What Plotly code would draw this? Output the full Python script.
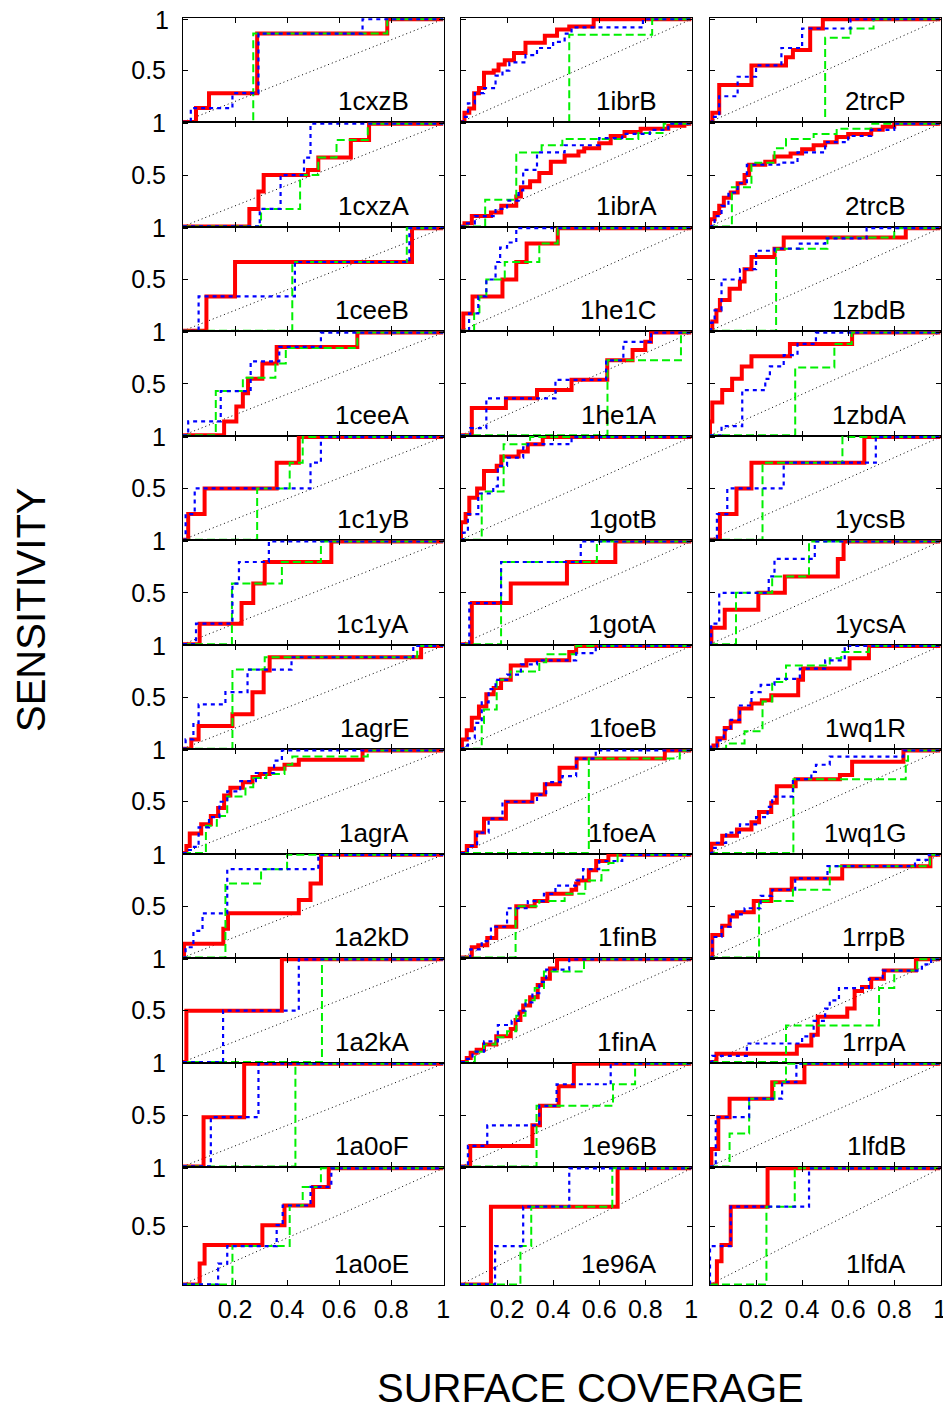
import plotly.graph_objects as go

# ---------------- data: step points (coverage, sensitivity) ----------------
red_1cxzB = [(0.05,0.135),(0.10,0.28),(0.285,0.86),(0.785,1.0)]
blue_1cxzB = [(0.03,0.135),(0.19,0.28),(0.29,0.86),(0.69,1.0)]
green_1cxzB = [(0.27,0.86),(0.785,1.0)]

red_1ibrB = [(0.015,0.09),(0.036,0.13),(0.057,0.28),(0.078,0.33),(0.10,0.48),(0.142,0.5),(0.163,0.56),(0.19,0.6),(0.23,0.67),(0.28,0.77),(0.364,0.84),(0.417,0.9),(0.47,0.93),(0.576,1.0)]
blue_1ibrB = [(0.01,0.05),(0.03,0.18),(0.06,0.28),(0.10,0.33),(0.15,0.45),(0.18,0.5),(0.21,0.58),(0.28,0.65),(0.33,0.72),(0.40,0.78),(0.45,0.86),(0.48,0.92),(0.79,1.0)]
green_1ibrB = [(0.47,0.85),(0.83,1.0)]

red_2trcP = [(0.01,0.09),(0.04,0.36),(0.18,0.55),(0.33,0.63),(0.36,0.70),(0.435,0.91),(0.49,1.0)]
blue_2trcP = [(0.01,0.05),(0.04,0.25),(0.12,0.44),(0.20,0.55),(0.31,0.72),(0.40,0.91),(0.61,1.0)]
green_2trcP = [(0.50,0.82),(0.61,0.91),(0.71,1.0)]

red_1cxzA = [(0.255,0.17),(0.29,0.34),(0.31,0.5),(0.48,0.55),(0.52,0.67),(0.645,0.84),(0.715,1.0)]
blue_1cxzA = [(0.295,0.17),(0.375,0.5),(0.465,0.67),(0.49,1.0)]
green_1cxzA = [(0.30,0.17),(0.45,0.5),(0.52,0.67),(0.59,0.84),(0.71,1.0)]

red_1ibrA = [(0.015,0.03),(0.047,0.1),(0.13,0.135),(0.175,0.2),(0.24,0.29),(0.26,0.38),(0.30,0.44),(0.34,0.52),(0.39,0.63),(0.45,0.69),(0.51,0.73),(0.535,0.76),(0.6,0.81),(0.65,0.88),(0.71,0.92),(0.78,0.95),(0.90,0.98),(0.97,1.0)]
blue_1ibrA = [(0.02,0.03),(0.06,0.1),(0.15,0.17),(0.2,0.25),(0.25,0.35),(0.27,0.55),(0.33,0.72),(0.45,0.79),(0.6,0.86),(0.7,0.9),(0.82,0.94),(0.9,1.0)]
green_1ibrA = [(0.105,0.26),(0.24,0.72),(0.35,0.79),(0.44,0.85),(0.77,0.91),(0.88,1.0)]

red_2trcB = [(0.0,0.07),(0.02,0.13),(0.04,0.2),(0.06,0.28),(0.09,0.33),(0.12,0.42),(0.15,0.5),(0.17,0.6),(0.24,0.63),(0.28,0.68),(0.35,0.71),(0.4,0.75),(0.45,0.79),(0.5,0.82),(0.55,0.87),(0.6,0.9),(0.7,0.94),(0.75,0.97),(0.8,1.0)]
blue_2trcB = [(0.01,0.03),(0.02,0.1),(0.05,0.2),(0.08,0.33),(0.12,0.42),(0.16,0.6),(0.3,0.62),(0.38,0.72),(0.5,0.82),(0.6,0.88),(0.7,0.94),(0.8,1.0)]
green_2trcB = [(0.095,0.38),(0.18,0.62),(0.28,0.76),(0.33,0.85),(0.45,0.9),(0.55,0.95),(0.7,1.0)]

red_1ceeB = [(0.09,0.335),(0.2,0.67),(0.88,1.0)]
blue_1ceeB = [(0.06,0.335),(0.43,0.67),(0.87,1.0)]
green_1ceeB = [(0.42,0.67),(0.86,1.0)]

red_1he1C = [(0.01,0.17),(0.05,0.335),(0.18,0.5),(0.24,0.67),(0.285,0.85),(0.42,1.0)]
blue_1he1C = [(0.035,0.17),(0.075,0.335),(0.11,0.5),(0.15,0.67),(0.17,0.81),(0.2,0.86),(0.24,1.0)]
green_1he1C = [(0.057,0.17),(0.08,0.335),(0.11,0.5),(0.19,0.67),(0.34,0.85),(0.42,1.0)]

red_1zbdB = [(0.01,0.09),(0.028,0.2),(0.043,0.3),(0.085,0.41),(0.13,0.48),(0.15,0.6),(0.18,0.72),(0.28,0.8),(0.32,0.91),(0.85,1.0)]
blue_1zbdB = [(0.005,0.08),(0.02,0.2),(0.05,0.5),(0.13,0.6),(0.2,0.78),(0.28,0.8),(0.39,0.85),(0.5,0.9),(0.68,1.0)]
green_1zbdB = [(0.287,0.8),(0.51,0.91),(0.8,1.0)]

red_1ceeA = [(0.158,0.135),(0.205,0.28),(0.23,0.41),(0.25,0.55),(0.305,0.7),(0.36,0.86),(0.67,1.0)]
blue_1ceeA = [(0.02,0.135),(0.145,0.43),(0.26,0.72),(0.37,0.86),(0.53,1.0)]
green_1ceeA = [(0.126,0.43),(0.23,0.56),(0.355,0.7),(0.395,0.85),(0.67,1.0)]

red_1he1A = [(0.047,0.265),(0.195,0.36),(0.33,0.44),(0.48,0.54),(0.635,0.73),(0.745,0.83),(0.8,0.91),(0.825,1.0)]
blue_1he1A = [(0.04,0.07),(0.11,0.36),(0.41,0.54),(0.63,0.73),(0.705,0.91),(0.825,1.0)]
green_1he1A = [(0.636,0.73),(0.955,1.0)]

red_1zbdA = [(0.0,0.135),(0.01,0.32),(0.053,0.44),(0.096,0.55),(0.138,0.67),(0.18,0.77),(0.347,0.89),(0.617,1.0)]
blue_1zbdA = [(0.05,0.09),(0.14,0.44),(0.24,0.55),(0.26,0.67),(0.32,0.78),(0.38,0.89),(0.46,1.0)]
green_1zbdA = [(0.37,0.66),(0.54,0.89),(0.615,1.0)]

red_1c1yB = [(0.02,0.25),(0.083,0.5),(0.36,0.75),(0.445,1.0)]
blue_1c1yB = [(0.01,0.25),(0.045,0.5),(0.49,0.75),(0.53,1.0)]
green_1c1yB = [(0.285,0.5),(0.41,0.75),(0.46,1.0)]

red_1gotB = [(0.0,0.17),(0.02,0.25),(0.036,0.41),(0.07,0.5),(0.1,0.67),(0.155,0.72),(0.175,0.81),(0.25,0.86),(0.29,0.93),(0.355,1.0)]
blue_1gotB = [(0.01,0.07),(0.03,0.25),(0.075,0.45),(0.14,0.52),(0.16,0.72),(0.2,0.8),(0.27,0.9),(0.29,0.93),(0.48,1.0)]
green_1gotB = [(0.09,0.47),(0.185,0.93),(0.3,1.0)]

red_1ycsB = [(0.043,0.25),(0.115,0.5),(0.18,0.75),(0.67,1.0)]
blue_1ycsB = [(0.03,0.25),(0.075,0.5),(0.32,0.75),(0.72,1.0)]
green_1ycsB = [(0.228,0.75),(0.575,1.0)]

red_1c1yA = [(0.064,0.2),(0.225,0.4),(0.27,0.59),(0.314,0.8),(0.57,1.0)]
blue_1c1yA = [(0.05,0.2),(0.19,0.59),(0.215,0.8),(0.33,1.0)]
green_1c1yA = [(0.188,0.59),(0.38,0.8),(0.53,1.0)]

red_1gotA = [(0.047,0.4),(0.216,0.59),(0.46,0.8),(0.67,1.0)]
blue_1gotA = [(0.036,0.4),(0.174,0.8),(0.52,1.0)]
green_1gotA = [(0.174,0.8),(0.59,1.0)]

red_1ycsA = [(0.006,0.16),(0.064,0.335),(0.21,0.5),(0.325,0.66),(0.555,0.83),(0.58,1.0)]
blue_1ycsA = [(0.005,0.2),(0.04,0.5),(0.255,0.66),(0.28,0.83),(0.455,1.0)]
green_1ycsA = [(0.113,0.5),(0.27,0.66),(0.43,1.0)]

red_1agrE = [(0.032,0.09),(0.06,0.22),(0.19,0.335),(0.267,0.55),(0.31,0.76),(0.333,0.89),(0.915,1.0)]
blue_1agrE = [(0.01,0.09),(0.04,0.25),(0.06,0.43),(0.163,0.55),(0.248,0.77),(0.417,0.89),(0.885,1.0)]
green_1agrE = [(0.19,0.77),(0.314,0.89),(0.9,1.0)]

red_1foeB = [(0.004,0.09),(0.025,0.18),(0.047,0.3),(0.078,0.41),(0.11,0.53),(0.142,0.59),(0.174,0.67),(0.216,0.81),(0.284,0.86),(0.47,0.94),(0.5,1.0)]
blue_1foeB = [(0.01,0.03),(0.03,0.1),(0.06,0.25),(0.09,0.45),(0.12,0.58),(0.15,0.67),(0.2,0.72),(0.26,0.82),(0.33,0.86),(0.5,0.93),(0.585,1.0)]
green_1foeB = [(0.09,0.25),(0.1,0.38),(0.155,0.67),(0.215,0.75),(0.34,0.84),(0.37,0.92),(0.5,1.0)]

red_1wq1R = [(0.015,0.03),(0.032,0.1),(0.064,0.2),(0.09,0.265),(0.128,0.39),(0.18,0.44),(0.225,0.47),(0.266,0.52),(0.383,0.67),(0.404,0.78),(0.606,0.88),(0.69,1.0)]
blue_1wq1R = [(0.005,0.02),(0.03,0.08),(0.06,0.18),(0.09,0.28),(0.13,0.42),(0.18,0.55),(0.22,0.62),(0.28,0.68),(0.39,0.78),(0.5,0.86),(0.585,1.0)]
green_1wq1R = [(0.07,0.05),(0.15,0.17),(0.228,0.46),(0.27,0.65),(0.33,0.81),(0.52,0.88),(0.57,0.94),(0.69,1.0)]

red_1agrA = [(0.013,0.07),(0.026,0.19),(0.07,0.28),(0.107,0.36),(0.135,0.44),(0.158,0.56),(0.182,0.635),(0.23,0.69),(0.267,0.74),(0.295,0.77),(0.333,0.82),(0.39,0.86),(0.445,0.91),(0.69,1.0)]
blue_1agrA = [(0.01,0.03),(0.03,0.06),(0.06,0.25),(0.1,0.35),(0.14,0.5),(0.17,0.6),(0.22,0.7),(0.28,0.78),(0.35,0.9),(0.38,1.0)]
green_1agrA = [(0.088,0.265),(0.13,0.36),(0.17,0.55),(0.24,0.64),(0.27,0.73),(0.32,0.77),(0.39,0.86),(0.42,0.94),(0.71,1.0)]

red_1foeA = [(0.025,0.07),(0.064,0.2),(0.1,0.335),(0.195,0.5),(0.31,0.57),(0.364,0.67),(0.428,0.83),(0.502,0.92),(0.885,1.0)]
blue_1foeA = [(0.03,0.07),(0.07,0.2),(0.12,0.335),(0.18,0.5),(0.33,0.57),(0.37,0.69),(0.44,0.75),(0.5,0.92),(0.585,1.0)]
green_1foeA = [(0.555,0.92),(0.95,1.0)]

red_1wq1G = [(0.006,0.09),(0.053,0.17),(0.117,0.23),(0.18,0.3),(0.213,0.4),(0.266,0.49),(0.29,0.65),(0.372,0.72),(0.564,0.76),(0.617,0.89),(0.84,1.0)]
blue_1wq1G = [(0.01,0.05),(0.03,0.1),(0.07,0.2),(0.13,0.28),(0.2,0.35),(0.25,0.45),(0.27,0.55),(0.36,0.72),(0.44,0.79),(0.46,0.86),(0.52,0.94),(0.84,1.0)]
green_1wq1G = [(0.362,0.72),(0.85,0.9),(0.86,1.0)]

red_1a2kD = [(0.004,0.135),(0.155,0.28),(0.173,0.43),(0.445,0.56),(0.49,0.72),(0.53,1.0)]
blue_1a2kD = [(0.01,0.1),(0.04,0.26),(0.075,0.43),(0.17,0.86),(0.52,1.0)]
green_1a2kD = [(0.163,0.72),(0.3,0.86),(0.4,1.0)]

red_1finB = [(0.047,0.1),(0.075,0.12),(0.114,0.19),(0.153,0.3),(0.24,0.5),(0.32,0.55),(0.375,0.62),(0.48,0.66),(0.5,0.72),(0.51,0.75),(0.555,0.85),(0.587,0.94),(0.64,1.0)]
blue_1finB = [(0.04,0.08),(0.09,0.16),(0.13,0.3),(0.2,0.48),(0.29,0.55),(0.36,0.62),(0.41,0.7),(0.5,0.75),(0.53,0.86),(0.6,0.94),(0.7,1.0)]
green_1finB = [(0.237,0.5),(0.34,0.55),(0.45,0.62),(0.54,0.75),(0.61,0.85),(0.64,0.92),(0.68,1.0)]

red_1rrpB = [(0.01,0.22),(0.053,0.31),(0.085,0.4),(0.117,0.44),(0.19,0.55),(0.266,0.66),(0.355,0.77),(0.574,0.89),(0.957,1.0)]
blue_1rrpB = [(0.01,0.2),(0.05,0.3),(0.09,0.42),(0.15,0.48),(0.22,0.6),(0.27,0.66),(0.37,0.77),(0.51,0.89),(0.89,0.95),(0.95,1.0)]
green_1rrpB = [(0.213,0.55),(0.36,0.66),(0.52,0.89),(0.955,1.0)]

red_1a2kA = [(0.013,0.5),(0.38,1.0)]
blue_1a2kA = [(0.154,0.5),(0.445,1.0)]
green_1a2kA = [(0.534,1.0)]

red_1finA = [(0.025,0.04),(0.042,0.09),(0.068,0.12),(0.1,0.17),(0.153,0.25),(0.216,0.32),(0.237,0.41),(0.258,0.49),(0.27,0.55),(0.3,0.63),(0.333,0.75),(0.354,0.81),(0.386,0.91),(0.417,1.0)]
blue_1finA = [(0.02,0.03),(0.05,0.1),(0.1,0.2),(0.16,0.36),(0.22,0.4),(0.25,0.5),(0.28,0.58),(0.31,0.67),(0.34,0.78),(0.37,0.9),(0.47,1.0)]
green_1finA = [(0.06,0.1),(0.1,0.17),(0.15,0.24),(0.2,0.3),(0.24,0.45),(0.28,0.6),(0.32,0.72),(0.36,0.88),(0.534,1.0)]

red_1rrpA = [(0.028,0.08),(0.377,0.16),(0.44,0.265),(0.468,0.44),(0.596,0.52),(0.628,0.69),(0.66,0.73),(0.70,0.81),(0.755,0.89),(0.894,1.0)]
blue_1rrpA = [(0.01,0.06),(0.16,0.18),(0.4,0.25),(0.45,0.4),(0.5,0.52),(0.52,0.6),(0.56,0.72),(0.69,0.81),(0.75,0.89),(0.92,0.95),(0.96,1.0)]
green_1rrpA = [(0.33,0.355),(0.734,0.72),(0.8,0.89),(0.9,1.0)]

red_1a0oF = [(0.079,0.48),(0.235,1.0)]
blue_1a0oF = [(0.107,0.48),(0.29,1.0)]
green_1a0oF = [(0.432,1.0)]

red_1e96B = [(0.04,0.2),(0.31,0.4),(0.343,0.59),(0.424,0.78),(0.49,1.0)]
blue_1e96B = [(0.03,0.2),(0.114,0.4),(0.34,0.59),(0.415,0.8),(0.65,1.0)]
green_1e96B = [(0.328,0.59),(0.66,0.8),(0.756,1.0)]

red_1lfdB = [(0.006,0.17),(0.036,0.48),(0.085,0.66),(0.27,0.82),(0.41,1.0)]
blue_1lfdB = [(0.025,0.48),(0.17,0.66),(0.313,0.82),(0.375,1.0)]
green_1lfdB = [(0.085,0.32),(0.17,0.66),(0.28,0.82),(0.33,1.0)]

red_1a0oE = [(0.064,0.18),(0.083,0.34),(0.305,0.51),(0.39,0.68),(0.5,0.84),(0.56,1.0)]
blue_1a0oE = [(0.135,0.18),(0.17,0.33),(0.36,0.51),(0.383,0.68),(0.49,0.84),(0.57,1.0)]
green_1a0oE = [(0.19,0.33),(0.41,0.68),(0.46,0.84),(0.53,1.0)]

red_1e96A = [(0.13,0.67),(0.68,1.0)]
blue_1e96A = [(0.148,0.33),(0.27,0.67),(0.47,1.0)]
green_1e96A = [(0.258,0.33),(0.305,0.67),(0.657,1.0)]

red_1lfdA = [(0.03,0.2),(0.05,0.34),(0.09,0.67),(0.25,1.0)]
blue_1lfdA = [(0.0,0.33),(0.09,0.67),(0.43,1.0)]
green_1lfdA = [(0.245,0.67),(0.368,1.0)]

grid_names = [
    ["1cxzB", "1ibrB", "2trcP"],
    ["1cxzA", "1ibrA", "2trcB"],
    ["1ceeB", "1he1C", "1zbdB"],
    ["1ceeA", "1he1A", "1zbdA"],
    ["1c1yB", "1gotB", "1ycsB"],
    ["1c1yA", "1gotA", "1ycsA"],
    ["1agrE", "1foeB", "1wq1R"],
    ["1agrA", "1foeA", "1wq1G"],
    ["1a2kD", "1finB", "1rrpB"],
    ["1a2kA", "1finA", "1rrpA"],
    ["1a0oF", "1e96B", "1lfdB"],
    ["1a0oE", "1e96A", "1lfdA"],
]

x_tick_vals = [0.2, 0.4, 0.6, 0.8, 1.0]
x_tick_text = ["0.2", "0.4", "0.6", "0.8", "1"]
y_tick_vals = [0.5, 1.0]
y_tick_text = ["0.5", "1"]

# ---------------- layout geometry (pixels, page coords) ----------------
W, H = 951, 1408
OFF = 8  # default page body margin
col_px = [(183, 444), (461, 692), (710, 941)]
row_h = 104.45
row_px = [(18 + row_h * i, 18 + row_h * (i + 1)) for i in range(11)] + [(18 + row_h * 11, 1285)]

def px(v):
    return (v - OFF) / W

def py(v):
    return 1 - (v - OFF) / H

FONT = "Liberation Sans, Arial, sans-serif"
styles = {
    "red": dict(color="#ff0000", width=4, dash="solid"),
    "green": dict(color="#00f000", width=2, dash="8px,4px"),
    "blue": dict(color="#0000ff", width=2.2, dash="4px,4px"),
}

def steps(pts):
    xs = [0.0] + [p[0] for p in pts] + [1.0]
    ys = [0.0] + [p[1] for p in pts] + [1.0]
    return xs, ys

fig = go.Figure()
layout = {}
annotations = []
g = globals()
for r in range(12):
    for c in range(3):
        k = r * 3 + c + 1
        name = grid_names[r][c]
        xa = "x" if k == 1 else f"x{k}"
        ya = "y" if k == 1 else f"y{k}"
        fig.add_trace(go.Scatter(x=[0, 1], y=[0, 1], mode="lines", xaxis=xa, yaxis=ya,
                                 line=dict(color="black", width=1, dash="1px,3px"),
                                 showlegend=False, hoverinfo="skip"))
        for s in ["red", "green", "blue"]:
            xs, ys = steps(g[f"{s}_{name}"])
            fig.add_trace(go.Scatter(x=xs, y=ys, mode="lines", line_shape="hv",
                                     xaxis=xa, yaxis=ya, line=styles[s],
                                     showlegend=False))
        x0, x1 = col_px[c]
        t0, t1 = row_px[r]
        common = dict(showline=True, mirror="ticks", linecolor="black", linewidth=1,
                      ticks="inside", ticklen=5, tickcolor="black", showgrid=False,
                      zeroline=False, fixedrange=True, automargin=False,
                      ticklabeloverflow="allow",
                      tickfont=dict(family=FONT, size=25, color="black"))
        ytext = y_tick_text if k != 1 else [y_tick_text[0], ""]
        layout["xaxis" + ("" if k == 1 else str(k))] = dict(
            domain=[px(x0), px(x1)], range=[0, 1.003], anchor=ya,
            tickvals=x_tick_vals, ticktext=x_tick_text,
            showticklabels=(r == 11), ticklabelstandoff=2, **common)
        layout["yaxis" + ("" if k == 1 else str(k))] = dict(
            domain=[py(t1), py(t0)], range=[-0.005, 1.012], anchor=xa,
            tickvals=y_tick_vals, ticktext=ytext,
            showticklabels=(c == 0), ticklabelstandoff=11, **common)
        annotations.append(dict(
            text=name, xref="paper", yref="paper",
            x=px(x1 - 33), y=py(t1 - 21),
            xanchor="right", yanchor="middle", showarrow=False,
            font=dict(family=FONT, size=26, color="black")))

# top-most "1" label of the first row (kept inside the page)
annotations.append(dict(text=y_tick_text[1], xref="paper", yref="paper",
                        x=px(183 - 12), y=py(19.5), xanchor="right", yanchor="middle",
                        showarrow=False, font=dict(family=FONT, size=25, color="black")))
annotations.append(dict(text="SENSITIVITY", xref="paper", yref="paper",
                        x=px(31), y=py(610), textangle=-90,
                        xanchor="center", yanchor="middle", showarrow=False,
                        font=dict(family=FONT, size=40, color="black")))
annotations.append(dict(text="SURFACE COVERAGE", xref="paper", yref="paper",
                        x=px(590), y=py(1388),
                        xanchor="center", yanchor="middle", showarrow=False,
                        font=dict(family=FONT, size=40, color="black")))

fig.update_layout(width=W, height=H,
                  margin=dict(l=0, r=0, t=0, b=0, autoexpand=False),
                  paper_bgcolor="white", plot_bgcolor="white",
                  annotations=annotations, **layout)

fig.write_html("out.html")
